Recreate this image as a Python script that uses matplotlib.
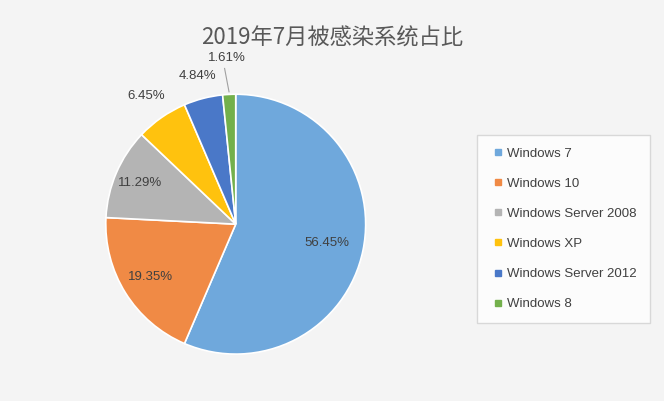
import numpy as np
import matplotlib
matplotlib.use("Agg")
import matplotlib.pyplot as plt
from matplotlib.lines import Line2D

categories = ["Windows 7", "Windows 10", "Windows Server 2008", "Windows XP", "Windows Server 2012", "Windows 8"]
values = [56.45, 19.35, 11.29, 6.45, 4.84, 1.61]
colors = ["#6fa8dc", "#f08a45", "#b4b4b4", "#ffc20e", "#4a78c8", "#73b04c"]
label_r = [0.72, 0.77, 0.8, 1.2, 1.18, 1.28]

fig = plt.figure(figsize=(6.64, 4.01), dpi=100)
fig.patch.set_facecolor("#f4f4f4")
fig.text(0.5, 0.905, "2019年7月被感染系统占比", ha="center", va="center",
         fontsize=16, color="#595959",
         fontfamily=["Noto Sans CJK SC", "Noto Sans CJK JP", "Noto Sans CJK TC"])
ax = fig.add_axes([0.159, 0.117, 0.392, 0.648])
wedges, _ = ax.pie(values, colors=colors, startangle=90, counterclock=False,
                   wedgeprops=dict(edgecolor="white", linewidth=1.2))
ax.set_aspect("equal")
ax.set_xlim(-1, 1)
ax.set_ylim(-1, 1)
for w, v, r in zip(wedges, values, label_r):
    a = np.deg2rad((w.theta1 + w.theta2) / 2)
    x, y = r * np.cos(a), r * np.sin(a)
    ax.text(x, y, f"{v:.2f}%", ha="center", va="center", fontsize=9.5, color="#404040",
            family="Liberation Sans", clip_on=False)
    if v < 2:
        ax.plot([1.02*np.cos(a), 1.1*np.cos(a)-0.03], [1.02*np.sin(a), 1.2*np.sin(a)],
                color="#a0a0a0", lw=0.8, clip_on=False)
handles = [Line2D([], [], marker="s", ls="", color=c, markersize=4.5) for c in colors]
leg = fig.legend(handles, categories, loc="upper left", bbox_to_anchor=(0.708, 0.681),
                 frameon=True, labelspacing=1.35, handletextpad=0.1, handlelength=1.2,
                 borderpad=1.0, prop={"family": "Liberation Sans", "size": 9.5})
leg.get_frame().set_edgecolor("#d0d0d0")
leg.get_frame().set_facecolor("white")
leg.get_frame().set_boxstyle("square", pad=0)
for t in leg.get_texts():
    t.set_color("#404040")
fig.savefig("out.png", dpi=100, facecolor=fig.get_facecolor())
